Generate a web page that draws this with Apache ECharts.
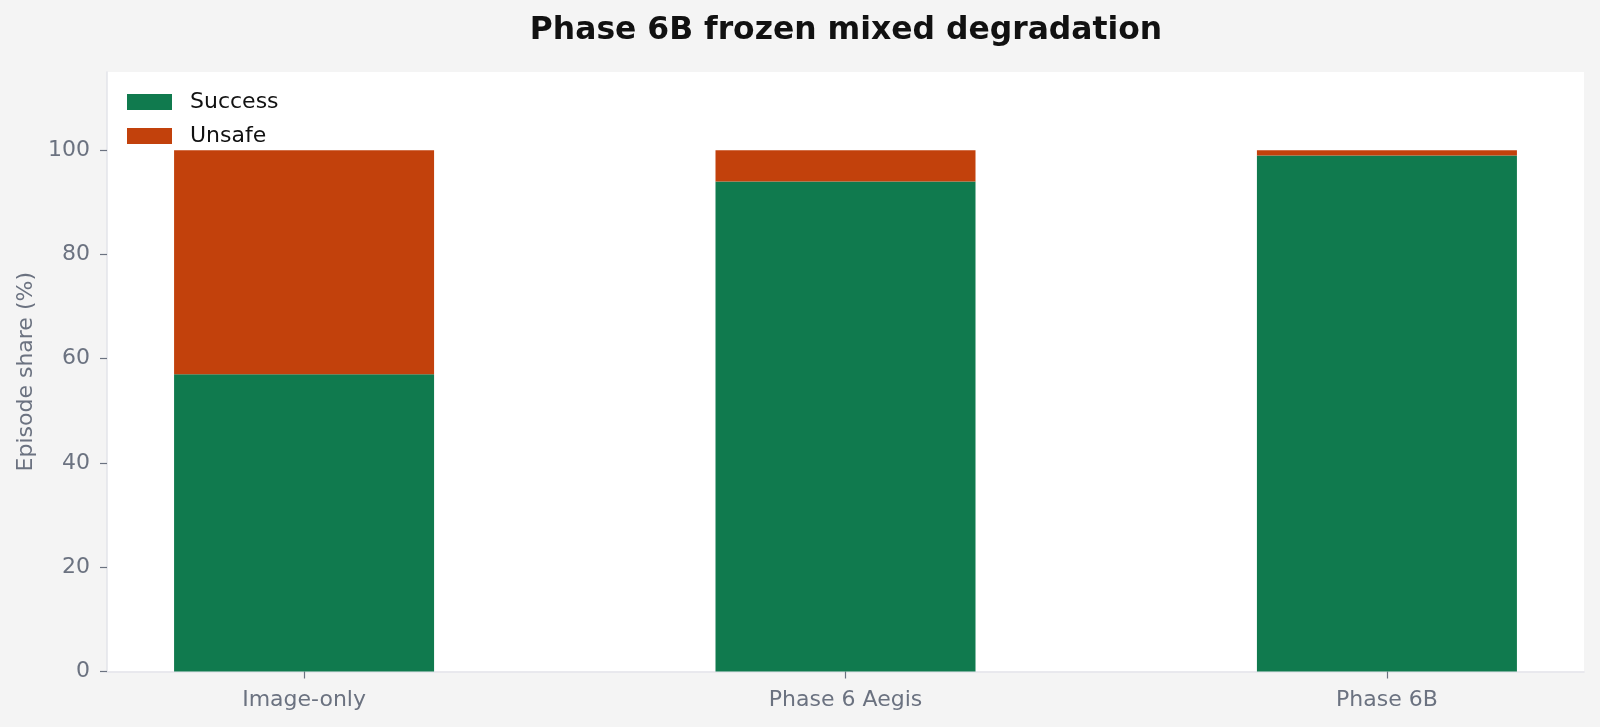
<!DOCTYPE html>
<html>
<head>
<meta charset="utf-8">
<title>Phase 6B frozen mixed degradation</title>
<script src="https://cdn.jsdelivr.net/npm/echarts@6/dist/echarts.min.js"></script>
<style>
  html, body { margin: 0; padding: 0; background: #f4f4f4; }
  #chart { width: 1600px; height: 727px; }
</style>
</head>
<body>
<div id="chart"></div>
<script>
// chart values
const categories = ['Image-only', 'Phase 6 Aegis', 'Phase 6B'];
const successShare = [57, 94, 99];
const unsafeShare = [43, 6, 1];
const yTicks = [0, 20, 40, 60, 80, 100];

const FONT = 'DejaVu Sans';
const GREY = '#6b7280';
const SPINE = '#e3e4ea';

// bars sit on a value x axis so the matplotlib-style side margins can be kept.
// value first, index second: the stack then runs on the value (y) dimension
const toPoints = (vals) => vals.map((v, i) => [v, i]);
const catIdx = categories.map((c, i) => i);

const chart = echarts.init(document.getElementById('chart'));

chart.setOption({
    backgroundColor: '#f4f4f4',
    animation: false,
    title: {
        text: 'Phase 6B frozen mixed degradation',
        left: 841,
        textAlign: 'center',
        top: 10,
        textStyle: { fontFamily: FONT, fontSize: 31.4, fontWeight: 'bold', color: '#111111' },
    },
    legend: {
        orient: 'vertical',
        left: 122,
        top: 86,
        itemWidth: 45,
        itemHeight: 16,
        itemGap: 12,
        icon: 'rect',
        textStyle: { fontFamily: FONT, fontSize: 22, color: '#111111', padding: [0, 0, 0, 13] },
        data: ['Success', 'Unsafe'],
    },
    grid: {
        left: 107,
        right: 16,
        top: 72,
        bottom: 55.5,
        show: true,
        backgroundColor: '#ffffff',
        borderWidth: 0,
    },
    xAxis: {
        type: 'value',
        min: -0.364,
        max: 2.364,
        splitLine: { show: false },
        axisLine: { show: true, onZero: false, lineStyle: { color: SPINE, width: 1.5 } },
        axisTick: { show: true, customValues: catIdx, length: 7, lineStyle: { color: GREY, width: 1.2 } },
        axisLabel: {
            customValues: catIdx,
            margin: 18,
            fontFamily: FONT,
            fontSize: 22,
            color: GREY,
            formatter: (v) => categories[Math.round(v)] || '',
        },
    },
    yAxis: {
        type: 'value',
        min: 0,
        max: 115,
        name: 'Episode share (%)',
        nameLocation: 'middle',
        nameGap: 70,
        nameTextStyle: { fontFamily: FONT, fontSize: 22, color: GREY },
        splitLine: { show: false },
        axisLine: { show: true, onZero: false, lineStyle: { color: SPINE, width: 1.5 } },
        axisTick: { show: true, customValues: yTicks, length: 7, lineStyle: { color: GREY, width: 1.2 } },
        axisLabel: {
            customValues: yTicks,
            margin: 17,
            fontFamily: FONT,
            fontSize: 22,
            color: GREY,
        },
    },
    series: [
        {
            name: 'Success',
            type: 'bar',
            stack: 'share',
            barWidth: 260,
            encode: { x: 1, y: 0 },
            itemStyle: { color: '#107a4e' },
            data: toPoints(successShare),
        },
        {
            name: 'Unsafe',
            type: 'bar',
            stack: 'share',
            barWidth: 260,
            encode: { x: 1, y: 0 },
            itemStyle: { color: '#c2410c' },
            data: toPoints(unsafeShare),
        },
    ],
});
</script>
</body>
</html>
